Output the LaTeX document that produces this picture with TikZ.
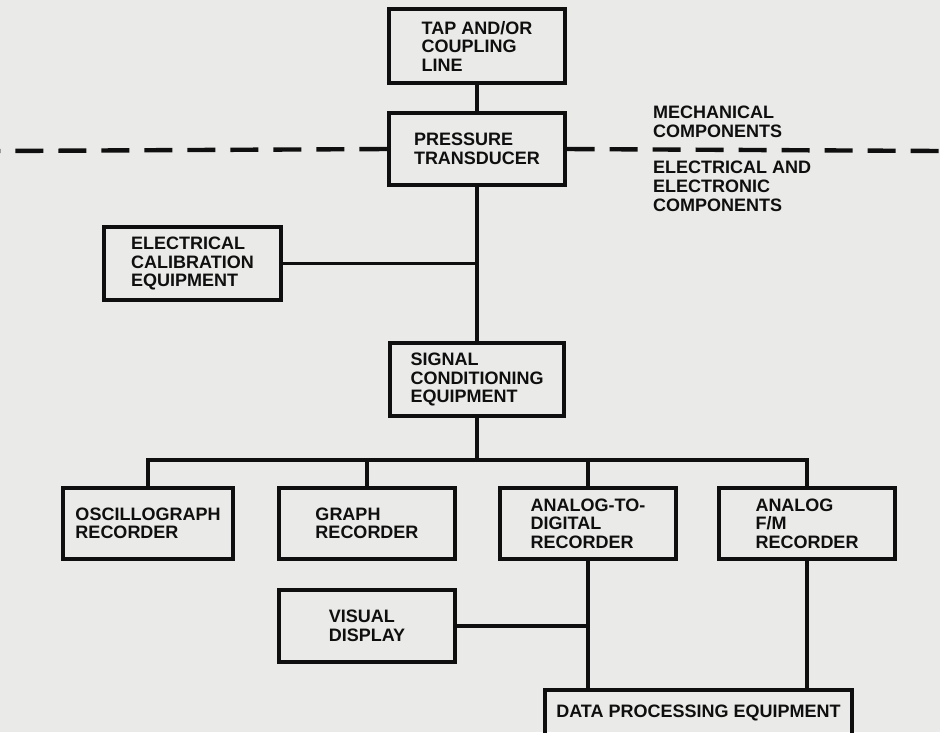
\documentclass[tikz,border=0pt]{standalone}
\usepackage{fontspec}
\setmainfont{Liberation Sans}
\usepackage{xcolor}
\usepackage{tikz}
\definecolor{paper}{RGB}{234,234,232}
\definecolor{ink}{RGB}{15,15,15}

\begin{document}
\begin{tikzpicture}[x=1pt,y=-1pt,
    blk/.style={draw=ink, line width=3.2pt, align=left, inner sep=0pt, text=ink,
      font=\fontsize{18}{18.5}\selectfont\bfseries},
    lbl/.style={align=left, inner sep=0pt, text=ink,
      font=\fontsize{18}{19}\selectfont\bfseries},
    wire/.style={draw=ink, line width=3.4pt},
    split/.style={draw=ink, line width=4.4pt, dash pattern=on 28pt off 15pt}]
                % Page
                \fill[paper] (0,0) rectangle (940,732);
                \useasboundingbox (0,0) rectangle (940,732);

                % Mechanical part
                \node[blk, minimum width=176pt, minimum height=74pt] (tap) at (477,46) {TAP AND/OR\\COUPLING\\LINE};
                \node[blk, minimum width=176pt, minimum height=72pt] (transducer) at (477,149) {PRESSURE\\TRANSDUCER};
                \node[lbl, anchor=north west] (mech) at (653,106) {MECHANICAL\\COMPONENTS};
                \node[lbl, anchor=north west] (elec) at (653,161) {ELECTRICAL AND\\ELECTRONIC\\COMPONENTS};
                \coordinate (dl) at (0,151);
                \coordinate (dr) at (940,151);

                % Electrical part
                \node[blk, minimum width=177pt, minimum height=73pt] (calib) at (192.5,263.5) {ELECTRICAL\\CALIBRATION\\EQUIPMENT};
                \node[blk, minimum width=174pt, minimum height=73pt] (signal) at (477,379.5) {SIGNAL\\CONDITIONING\\EQUIPMENT};
                \coordinate (bus) at (0,460);

                % Recorders
                \node[blk, minimum width=170pt, minimum height=71pt] (oscillo) at (148,523.5) {OSCILLOGRAPH\\RECORDER};
                \node[blk, minimum width=176pt, minimum height=71pt] (graph) at (367,523.5) {GRAPH\\RECORDER};
                \node[blk, minimum width=176pt, minimum height=71pt] (adc) at (588,523.5) {ANALOG-TO-\\DIGITAL\\RECORDER};
                \node[blk, minimum width=176pt, minimum height=71pt] (fm) at (807,523.5) {ANALOG\\F/M\\RECORDER};

                % Output
                \node[blk, minimum width=307pt, minimum height=46pt] (dataproc) at (698.5,713) {DATA PROCESSING EQUIPMENT};
                \node[blk, minimum width=176pt, minimum height=72pt] (visual) at (367,626) {VISUAL\\DISPLAY};

                % Connectors
                \draw[split] (transducer.west) -- (dl);
                \draw[split] (transducer.east) -- (dr);
                \draw[wire] (tap) -- (transducer);
                \draw[wire] (transducer) -- (signal);
                \draw[wire] (calib.east) -- (calib.east -| transducer.south);
                \draw[wire] (signal.south) -- (signal.south |- bus);
                \draw[wire] (oscillo.north) |- (bus -| fm.north) -- (fm.north);
                \draw[wire] (graph.north) -- (graph.north |- bus);
                \draw[wire] (adc.north) -- (adc.north |- bus);
                \draw[wire] (adc.south) -- (adc.south |- dataproc.north);
                \draw[wire] (fm.south) -- (fm.south |- dataproc.north);
                \draw[wire] (visual.east) -- (visual.east -| adc.south);
            \end{tikzpicture}
\end{document}
